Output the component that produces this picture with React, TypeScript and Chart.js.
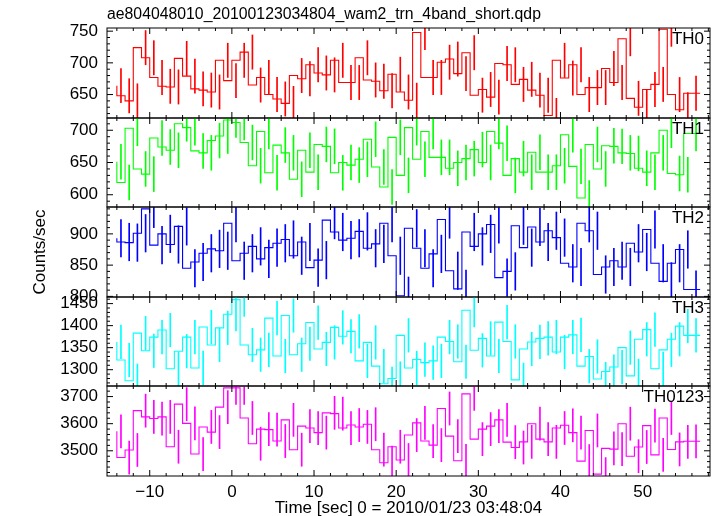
import React, { useEffect, useRef } from "react";
import { Chart, registerables } from "chart.js";

Chart.register(...registerables);

const FONT = "'Liberation Sans Narrow', 'Liberation Sans', Arial, Helvetica, sans-serif";

const plotTitle = "ae804048010_20100123034804_wam2_trn_4band_short.qdp";
const xTitle = "Time [sec] 0 = 2010/01/23 03:48:04";
const yTitle = "Counts/sec";

// bin centers (s)
const times = [
  -13.5, -12.5, -11.5, -10.5, -9.5, -8.5, -7.5, -6.5, -5.5, -4.5, -3.5, -2.5, -1.5, -0.5,
  0.5, 1.5, 2.5, 3.5, 4.5, 5.5, 6.5, 7.5, 8.5, 9.5, 10.5, 11.5, 12.5, 13.5, 14.5, 15.5,
  16.5, 17.5, 18.5, 19.5, 20.5, 21.5, 22.5, 23.5, 24.5, 25.5, 26.5, 27.5, 28.5, 29.5,
  30.5, 31.5, 32.5, 33.5, 34.5, 35.5, 36.5, 37.5, 38.5, 39.5, 40.5, 41.5, 42.5, 43.5,
  44.5, 45.5, 46.5, 47.5, 48.5, 49.5, 50.5, 51.5, 52.5, 53.5, 54.5, 55.5, 56.5,
];
const binHalfWidth = 0.5;

const th0 = [
  664, 648, 640, 724, 708, 677, 663, 662, 707, 679, 659, 657, 654, 704, 672, 704, 717, 665,
  677, 650, 643, 636, 680, 675, 697, 684, 681, 704, 669, 669, 708, 673, 671, 656, 682, 654,
  641, 748, 677, 677, 701, 706, 683, 716, 649, 658, 646, 699, 697, 666, 674, 657, 649, 617,
  704, 676, 697, 650, 661, 661, 691, 669, 738, 644, 630, 658, 666, 753, 650, 626, 652,
];
const th1 = [
  651, 619, 703, 640, 632, 688, 674, 669, 710, 704, 668, 665, 684, 691, 716, 712, 681, 645,
  698, 634, 677, 665, 624, 669, 635, 678, 675, 634, 650, 646, 655, 686, 643, 612, 689, 630,
  704, 655, 698, 658, 658, 641, 650, 656, 670, 650, 698, 680, 630, 656, 635, 666, 635, 635,
  645, 693, 644, 595, 678, 640, 676, 675, 665, 664, 641, 635, 665, 700, 633, 631, 695,
];
const th2 = [
  893, 887, 886, 901, 940, 882, 900, 883, 912, 845, 855, 869, 876, 873, 917, 857, 869, 880,
  860, 878, 885, 891, 865, 887, 846, 858, 922, 903, 890, 893, 904, 877, 884, 917, 865, 801,
  909, 877, 845, 868, 923, 841, 812, 903, 880, 900, 915, 830, 840, 913, 878, 911, 887, 905,
  894, 853, 847, 917, 905, 835, 847, 857, 847, 885, 871, 907, 853, 824, 853, 875, 811,
];
const th3 = [
  1363, 1322, 1275, 1383, 1343, 1374, 1390, 1302, 1342, 1374, 1304, 1397, 1356, 1395, 1426,
  1459, 1356, 1334, 1345, 1417, 1331, 1423, 1334, 1359, 1407, 1347, 1362, 1396, 1376, 1387,
  1320, 1362, 1308, 1268, 1280, 1378, 1304, 1323, 1316, 1320, 1374, 1364, 1318, 1435, 1344,
  1371, 1331, 1408, 1364, 1277, 1347, 1363, 1371, 1374, 1340, 1374, 1379, 1308, 1330, 1279,
  1296, 1306, 1350, 1286, 1369, 1391, 1302, 1345, 1369, 1399, 1378,
];
const th0123 = [
  3572, 3475, 3503, 3648, 3625, 3619, 3625, 3515, 3672, 3601, 3488, 3588, 3569, 3661, 3732,
  3732, 3621, 3526, 3580, 3578, 3536, 3614, 3504, 3591, 3584, 3567, 3640, 3637, 3584, 3595,
  3588, 3598, 3504, 3456, 3515, 3466, 3558, 3603, 3536, 3521, 3656, 3554, 3463, 3710, 3543,
  3580, 3591, 3614, 3532, 3512, 3533, 3600, 3543, 3533, 3584, 3594, 3567, 3462, 3575, 3414,
  3509, 3506, 3600, 3480, 3514, 3593, 3485, 3621, 3505, 3533, 3535,
];

const series = [th0, th1, th2, th3, th0123];
const panelNames = ["TH0", "TH1", "TH2", "TH3", "TH0123"];
const panelColors = ["#ff0000", "#00ff00", "#0000ff", "#00ffff", "#ff00ff"];
const panelErrors = [27, 27, 30, 38, 61];
const yMins = [613, 581, 799, 1263, 3407];
const yMaxs = [755, 719, 943, 1465, 3739];
const yTickLabels = [
  [650, 700, 750],
  [600, 650, 700],
  [800, 850, 900],
  [1300, 1350, 1400, 1450],
  [3500, 3600, 3700],
];
const yMinorSteps = [10, 10, 10, 10, 20];
const xTickLabels = [-10, 0, 10, 20, 30, 40, 50];
const xMinorStep = 2;
const xMin = -15.2;
const xMax = 58.2;

// layout (pixels)
const W = 717;
const H = 516;
const PLOT_LEFT = 107;
const PLOT_RIGHT = 710;
const panelEdges = [28, 118, 207, 297, 386, 476];

const framePlugin = {
  id: "qdpFrame",
  afterDraw(chart: any, _args: any, opts: any) {
    const { ctx, chartArea: a } = chart;
    const xs = chart.scales.x;
    const ys = chart.scales.y;
    ctx.save();
    ctx.strokeStyle = "#000";
    ctx.lineWidth = 1;
    ctx.strokeRect(a.left, a.top, a.right - a.left, a.bottom - a.top);
    ctx.beginPath();
    const x0 = Math.ceil(xs.min / xMinorStep) * xMinorStep;
    for (let v = x0; v <= xs.max; v += xMinorStep) {
      const px = xs.getPixelForValue(v);
      const len = xTickLabels.includes(v) ? 6 : 3;
      ctx.moveTo(px, a.top);
      ctx.lineTo(px, a.top + len);
      ctx.moveTo(px, a.bottom);
      ctx.lineTo(px, a.bottom - len);
    }
    const step = opts.minorStep;
    const y0 = Math.ceil(ys.min / step) * step;
    for (let v = y0; v <= ys.max; v += step) {
      const py = ys.getPixelForValue(v);
      const len = opts.majors.includes(v) ? 6 : 3;
      ctx.moveTo(a.left, py);
      ctx.lineTo(a.left + len, py);
      ctx.moveTo(a.right, py);
      ctx.lineTo(a.right - len, py);
    }
    ctx.stroke();
    ctx.fillStyle = "#000";
    ctx.font = `17px ${FONT}`;
    ctx.textAlign = "right";
    ctx.textBaseline = "top";
    ctx.fillText(opts.name, a.right - 6, a.top + 3);
    if (opts.title) {
      ctx.font = `15.8px ${FONT}`;
      ctx.textAlign = "left";
      ctx.textBaseline = "alphabetic";
      ctx.fillText(opts.title, PLOT_LEFT, 19);
    }
    ctx.restore();
  },
};

function makeConfig(k: number): any {
  const values = series[k];
  const err = panelErrors[k];
  const color = panelColors[k];
  const stepPoints = values.map((v, i) => ({ x: times[i] - binHalfWidth, y: v }));
  stepPoints.push({ x: times[times.length - 1] + binHalfWidth, y: values[values.length - 1] });
  const bars = values.map((v, i) => ({ x: times[i], y: [v - err, v + err] }));
  const isBottom = k === series.length - 1;
  const tickFont = { family: FONT, size: 17 };
  return {
    type: "line",
    data: {
      datasets: [
        {
          type: "bar",
          data: bars,
          backgroundColor: color,
          borderWidth: 0,
          barThickness: 1,
          order: 2,
        },
        {
          type: "line",
          data: stepPoints,
          stepped: "after",
          borderColor: color,
          borderWidth: 1.1,
          pointRadius: 0,
          fill: false,
          order: 1,
        },
      ],
    },
    options: {
      responsive: false,
      animation: false,
      devicePixelRatio: 1,
      events: [],
      layout: {
        padding: {
          left: 30,
          right: W - PLOT_RIGHT,
          top: panelEdges[k],
          bottom: isBottom ? 0 : H - panelEdges[k + 1],
        },
      },
      plugins: {
        legend: { display: false },
        tooltip: { enabled: false },
        qdpFrame: {
          name: panelNames[k],
          minorStep: yMinorSteps[k],
          majors: yTickLabels[k],
          title: k === 0 ? plotTitle : null,
        },
      },
      scales: {
        x: {
          type: "linear",
          min: xMin,
          max: xMax,
          offset: false,
          display: isBottom,
          grid: { display: false, drawTicks: false },
          border: { display: false },
          afterBuildTicks: (s: any) => {
            s.ticks = xTickLabels.map((v) => ({ value: v }));
          },
          afterFit: (s: any) => {
            s.height = isBottom ? H - panelEdges[5] : 0;
          },
          ticks: {
            padding: 6,
            color: "#000",
            font: tickFont,
            autoSkip: false,
            maxRotation: 0,
            callback: (v: number) => (v < 0 ? "\u2212" + Math.abs(v) : String(v)),
          },
          title: {
            display: true,
            text: xTitle,
            color: "#000",
            font: { family: FONT, size: 17, lineHeight: 1 },
            padding: { top: 0, bottom: -1 },
          },
        },
        y: {
          type: "linear",
          min: yMins[k],
          max: yMaxs[k],
          grid: { display: false, drawTicks: false },
          border: { display: false },
          afterBuildTicks: (s: any) => {
            s.ticks = yTickLabels[k].map((v) => ({ value: v }));
          },
          afterFit: (s: any) => {
            s.width = PLOT_LEFT - 30;
          },
          ticks: {
            padding: 9,
            color: "#000",
            font: tickFont,
            callback: (v: number) => String(v),
          },
          title: {
            display: k === 2,
            text: yTitle,
            color: "#000",
            font: { family: FONT, size: 17 },
            padding: 0,
          },
        },
      },
    },
    plugins: [framePlugin],
  };
}

export default function App() {
  const refs = useRef<(HTMLCanvasElement | null)[]>([]);
  useEffect(() => {
    const charts = series.map((_, k) => new Chart(refs.current[k] as HTMLCanvasElement, makeConfig(k)));
    return () => charts.forEach((c) => c.destroy());
  }, []);
  return (
    <div style={{ position: "fixed", left: 0, top: 0, width: W, height: H, background: "#fff" }}>
      {series.map((_, k) => (
        <canvas
          key={k}
          ref={(el) => {
            refs.current[k] = el;
          }}
          width={W}
          height={H}
          style={{ position: "absolute", left: 0, top: 0, width: W, height: H }}
        />
      ))}
    </div>
  );
}
